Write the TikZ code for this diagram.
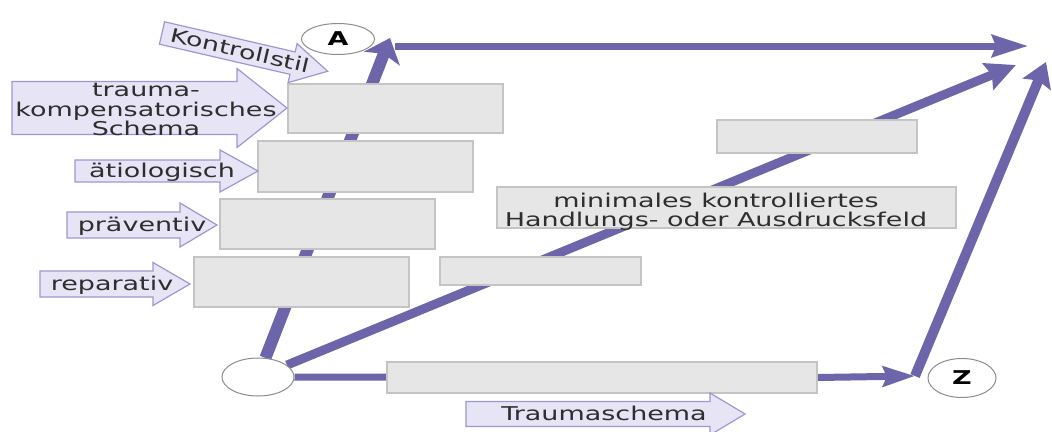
\documentclass[tikz,border=0pt]{standalone}
\usepackage{fontspec}
\setmainfont{DejaVu Sans}
\usetikzlibrary{arrows.meta,shapes.geometric}
\definecolor{flowc}{HTML}{6D65AA}
\definecolor{boxfill}{HTML}{E6E6E6}
\definecolor{boxline}{HTML}{C4C4C4}
\definecolor{tagfill}{HTML}{E6E4F5}
\definecolor{tagline}{HTML}{9C98D4}
\definecolor{ink}{HTML}{2E2E2E}
\definecolor{poleline}{HTML}{8C8C8C}
\newcommand\tagfont{\fontsize{19}{17}\selectfont}
\newcommand\polefont{\fontsize{19}{19}\selectfont\bfseries}
\newcommand\wide[1]{\scalebox{1.42}[1]{#1}}
\newcommand\widelines[1]{\scalebox{1.42}[1]{\begin{tabular}{@{}c@{}}#1\end{tabular}}}
% arrow-shaped label: body from x0 to xh, tip at xt, centred on yc,
% body half height bh, head half height hh
\newcommand\tagshape[6]{%
  \filldraw[tag] (#1,#4-#5) -- (#2,#4-#5) -- (#2,#4-#6) -- (#3,#4)
    -- (#2,#4+#6) -- (#2,#4+#5) -- (#1,#4+#5) -- cycle;}
\pgfdeclarelayer{flows}
\pgfsetlayers{flows,main}
\begin{document}
\begin{tikzpicture}[x=1pt,y=-1pt,
  box/.style={draw=boxline,fill=boxfill,line width=1.2pt,inner sep=0pt},
  pole/.style={ellipse,draw=poleline,fill=white,line width=1pt,inner sep=0pt,font=\polefont},
  flow/.style={draw=flowc,fill=flowc,line cap=butt},
  tag/.style={draw=tagline,fill=tagfill,line width=1.2pt,line join=miter},
  tagtext/.style={inner sep=0pt,text=ink,font=\tagfont,text height=12.5pt,text depth=0pt},
  tagblock/.style={inner sep=0pt,text=ink,font=\tagfont},
]
\useasboundingbox (0,0) rectangle (1052,431);

% start and end poles
\node[pole,minimum width=72pt,minimum height=38pt] (o) at (258,377) {};
\node[pole,minimum width=73pt,minimum height=31pt] (A) at (338,39) {\wide{A}};
\node[pole,minimum width=68pt,minimum height=39pt] (Z) at (962,378) {\wide{Z}};

% stacked boxes on the way to A
\node[box,minimum width=215pt,minimum height=49pt] (b1) at (395.5,108.5) {};
\node[box,minimum width=215pt,minimum height=51pt] (b2) at (365.5,166.5) {};
\node[box,minimum width=215pt,minimum height=50pt] (b3) at (327.5,224) {};
\node[box,minimum width=215pt,minimum height=50pt] (b4) at (301.5,282) {};

% boxes on the middle path
\node[box,minimum width=201pt,minimum height=28pt] (b5) at (540.5,271) {};
\node[box,minimum width=459pt,minimum height=41pt] (b6) at (726.5,207.5) {};
\node[tagblock] (b6text) at (716,212.5) {\widelines{minimales kontrolliertes\\Handlungs- oder Ausdrucksfeld}};
\node[box,minimum width=200pt,minimum height=33pt] (b7) at (817,136.5) {};

% box on the lower path
\node[box,minimum width=430pt,minimum height=31pt] (b8) at (602,377.5) {};

% free ends of the paths
\coordinate (aTip) at (390,38);
\coordinate (topStart) at (395,46);
\coordinate (topTip) at (1028,46);
\coordinate (midTip) at (1016,65);
\coordinate (zFoot) at (915,376);
\coordinate (zTip) at (1046,62);

\begin{pgfonlayer}{flows}
  \draw[flow,line width=12pt,-{Stealth[length=22pt,width=38pt,inset=5pt]}] (o) -- (aTip);
  \draw[flow,line width=9pt,-{Stealth[length=30pt,width=28pt,inset=4pt]}] (o) -- (midTip);
  \draw[flow,line width=7pt] (o) -- (b8);
  \draw[flow,line width=7pt,-{Stealth[length=32pt,width=20pt,inset=4pt]}] (b8.east) -- (zFoot);
  \draw[flow,line width=10pt,-{Stealth[length=24pt,width=30pt,inset=4pt]}] (zFoot) -- (zTip);
  \draw[flow,line width=7pt,-{Stealth[length=36pt,width=22pt,inset=4pt]}] (topStart) -- (topTip);
\end{pgfonlayer}

% arrow-shaped labels
\begin{scope}[shift={(162,33)},rotate=-13]
  \tagshape{0}{134}{170}{0}{11.5}{20}
  \node[tagtext,transform shape] (kontroll) at (80,0) {\wide{Kontrollstil}};
\end{scope}

\tagshape{12}{237}{287}{108}{26.5}{39.5}
\node[tagblock] (kompens) at (146,112) {\widelines{trauma-\\kompensatorisches\\Schema}};

\tagshape{75}{220}{258}{171}{11}{21}
\node[tagtext] (aetio) at (162,171) {\wide{ätiologisch}};

\tagshape{67}{180}{217}{225}{13}{22}
\node[tagtext] (praev) at (142,225) {\wide{präventiv}};

\tagshape{40}{153}{190}{284}{13}{21.5}
\node[tagtext] (repar) at (112,284) {\wide{reparativ}};

\tagshape{466}{710}{745}{414}{12.5}{21}
\node[tagtext] (trauma) at (604,414) {\wide{Traumaschema}};
\end{tikzpicture}
\end{document}
